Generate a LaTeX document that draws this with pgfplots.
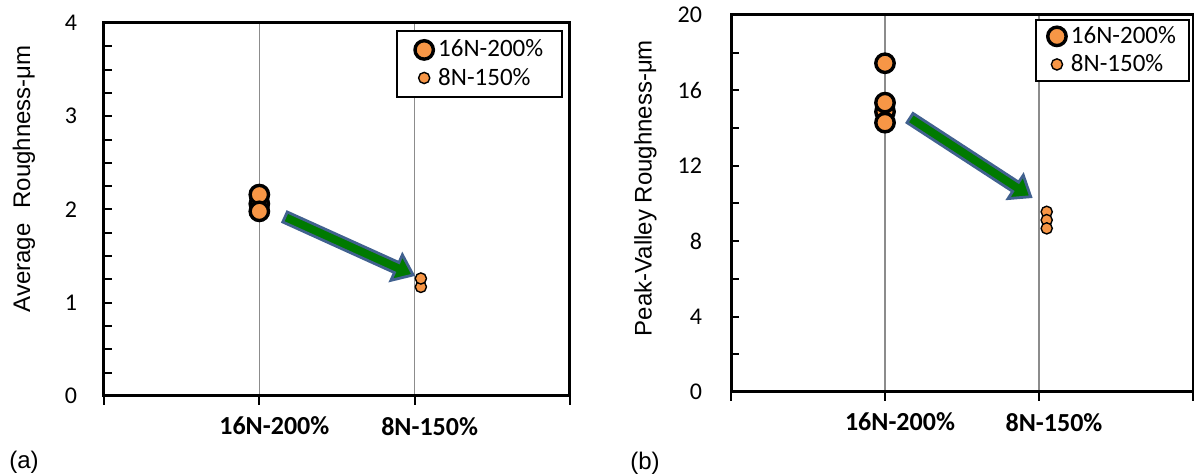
\documentclass[border=0pt]{standalone}
\usepackage{fontspec}
\setmainfont{Liberation Sans}
\newfontfamily\carlito{Carlito}
\usepackage{pgfplots}
\pgfplotsset{compat=1.18}
\definecolor{dotorange}{HTML}{F79646}
\definecolor{arrblue}{HTML}{41618F}
\definecolor{arrgreen}{HTML}{007A00}
\definecolor{gridgray}{RGB}{140,140,140}
\pgfplotsset{
  panel/.style={
    scale only axis,
    xmin=0, xmax=3,
    xtick={0,1,2,3},
    xticklabels={,16N-200\%,8N-150\%,},
    xtick pos=bottom, ytick pos=left,
    xmajorgrids,
    grid style={draw=gridgray, line width=0.7pt},
    axis line style={line width=1.5pt},
    tick align=inside,
    major tick length=3.8pt,
    minor tick length=3.8pt,
    every tick/.style={black, line width=1pt},
    xtick style={yshift=-4.5pt, /pgfplots/major tick length=4.5pt},
    /pgf/number format/assume math mode=true,
    yticklabel style={font=\carlito\fontsize{12}{14}\selectfont, anchor=east},
    xticklabel style={font=\carlito\bfseries\fontsize{13}{15}\selectfont, anchor=north, yshift=-7pt, xshift=7.5pt},
    ylabel style={font=\fontsize{12}{14}\selectfont, anchor=center},
    legend cell align=left,
    legend image code/.code={\path[draw=none,fill=none] (-5.5pt,-5.5pt) rectangle (5.5pt,5.5pt);\draw[##1] plot coordinates {(0pt,0pt)};},
    legend style={draw=black, line width=0.8pt, font=\carlito\fontsize{12.5}{15}\selectfont,
      row sep=0pt,
      nodes={inner xsep=1.5pt},
      /tikz/every even column/.append style={column sep=-1pt}},
  },
  bigdot/.style={only marks, mark=*, draw=black, fill=dotorange, line width=1.7pt, mark size=4.6pt},
  smalldot/.style={only marks, mark=*, draw=black, fill=dotorange, line width=0.7pt, mark size=2.8pt},
}
\begin{document}
\begin{tikzpicture}
\useasboundingbox (0,0) rectangle (597pt,238pt);
% ---------- (a)
\begin{axis}[panel,
  at={(52pt,40pt)}, anchor=south west,
  width=233pt, height=186.5pt,
  ymin=0, ymax=4, ytick={0,1,2,3,4}, minor ytick={0.25,0.5,...,3.75},
  yticklabel style={xshift=-10pt},
  ylabel={Average\hspace{0.35em} Roughness-μm},
  ylabel style={at={(axis description cs:-0.172,0.582)}},
  legend style={at={(0.985,0.981)}, anchor=north east, inner xsep=8pt, inner ysep=2.5pt},
]
\addplot[bigdot] coordinates {(1,2.06) (1,2.16) (1,1.98)};
\addlegendentry{16N-200\%}
\addplot[smalldot] coordinates {(2.04,1.17) (2.04,1.26)};
\addlegendentry{8N-150\%}
\draw[draw=arrblue, fill=arrgreen, line width=1.4pt, line join=miter]
  (axis cs:1.151,1.866) -- (axis cs:1.180,1.973) -- (axis cs:1.899,1.431)
  -- (axis cs:1.921,1.514) -- (axis cs:1.990,1.298) -- (axis cs:1.847,1.240)
  -- (axis cs:1.870,1.323) -- cycle;
\draw[black, line width=1.4pt] (rel axis cs:0,0) rectangle (rel axis cs:1,1);
\end{axis}
% ---------- (b)
\begin{axis}[panel,
  at={(365.5pt,42pt)}, anchor=south west,
  width=231pt, height=188.5pt,
  ymin=0, ymax=20, ytick={0,4,...,20}, minor ytick={2,6,...,18},
  yticklabel style={xshift=-11pt},
  ylabel={Peak-Valley Roughness-μm},
  ylabel style={at={(axis description cs:-0.185,0.541)}},
  legend style={at={(0.993,0.989)}, anchor=north east, inner xsep=5pt, inner ysep=1.2pt},
]
\addplot[bigdot] coordinates {(1,14.87) (1,17.44) (1,15.35) (1,14.29)};
\addlegendentry{16N-200\%}
\addplot[smalldot] coordinates {(2.05,9.56) (2.05,9.12) (2.05,8.68)};
\addlegendentry{8N-150\%}
\draw[draw=arrblue, fill=arrgreen, line width=1.4pt, line join=miter]
  (axis cs:1.143,14.29) -- (axis cs:1.182,14.78) -- (axis cs:1.868,11.13)
  -- (axis cs:1.898,11.50) -- (axis cs:1.946,10.36) -- (axis cs:1.799,10.26)
  -- (axis cs:1.829,10.64) -- cycle;
\draw[black, line width=1.4pt] (rel axis cs:0,0) rectangle (rel axis cs:1,1);
\end{axis}
\node[font=\fontsize{12}{14}\selectfont] at (12pt,7pt) {(a)};
\node[font=\fontsize{12}{14}\selectfont] at (322.5pt,6.5pt) {(b)};
\end{tikzpicture}
\end{document}
